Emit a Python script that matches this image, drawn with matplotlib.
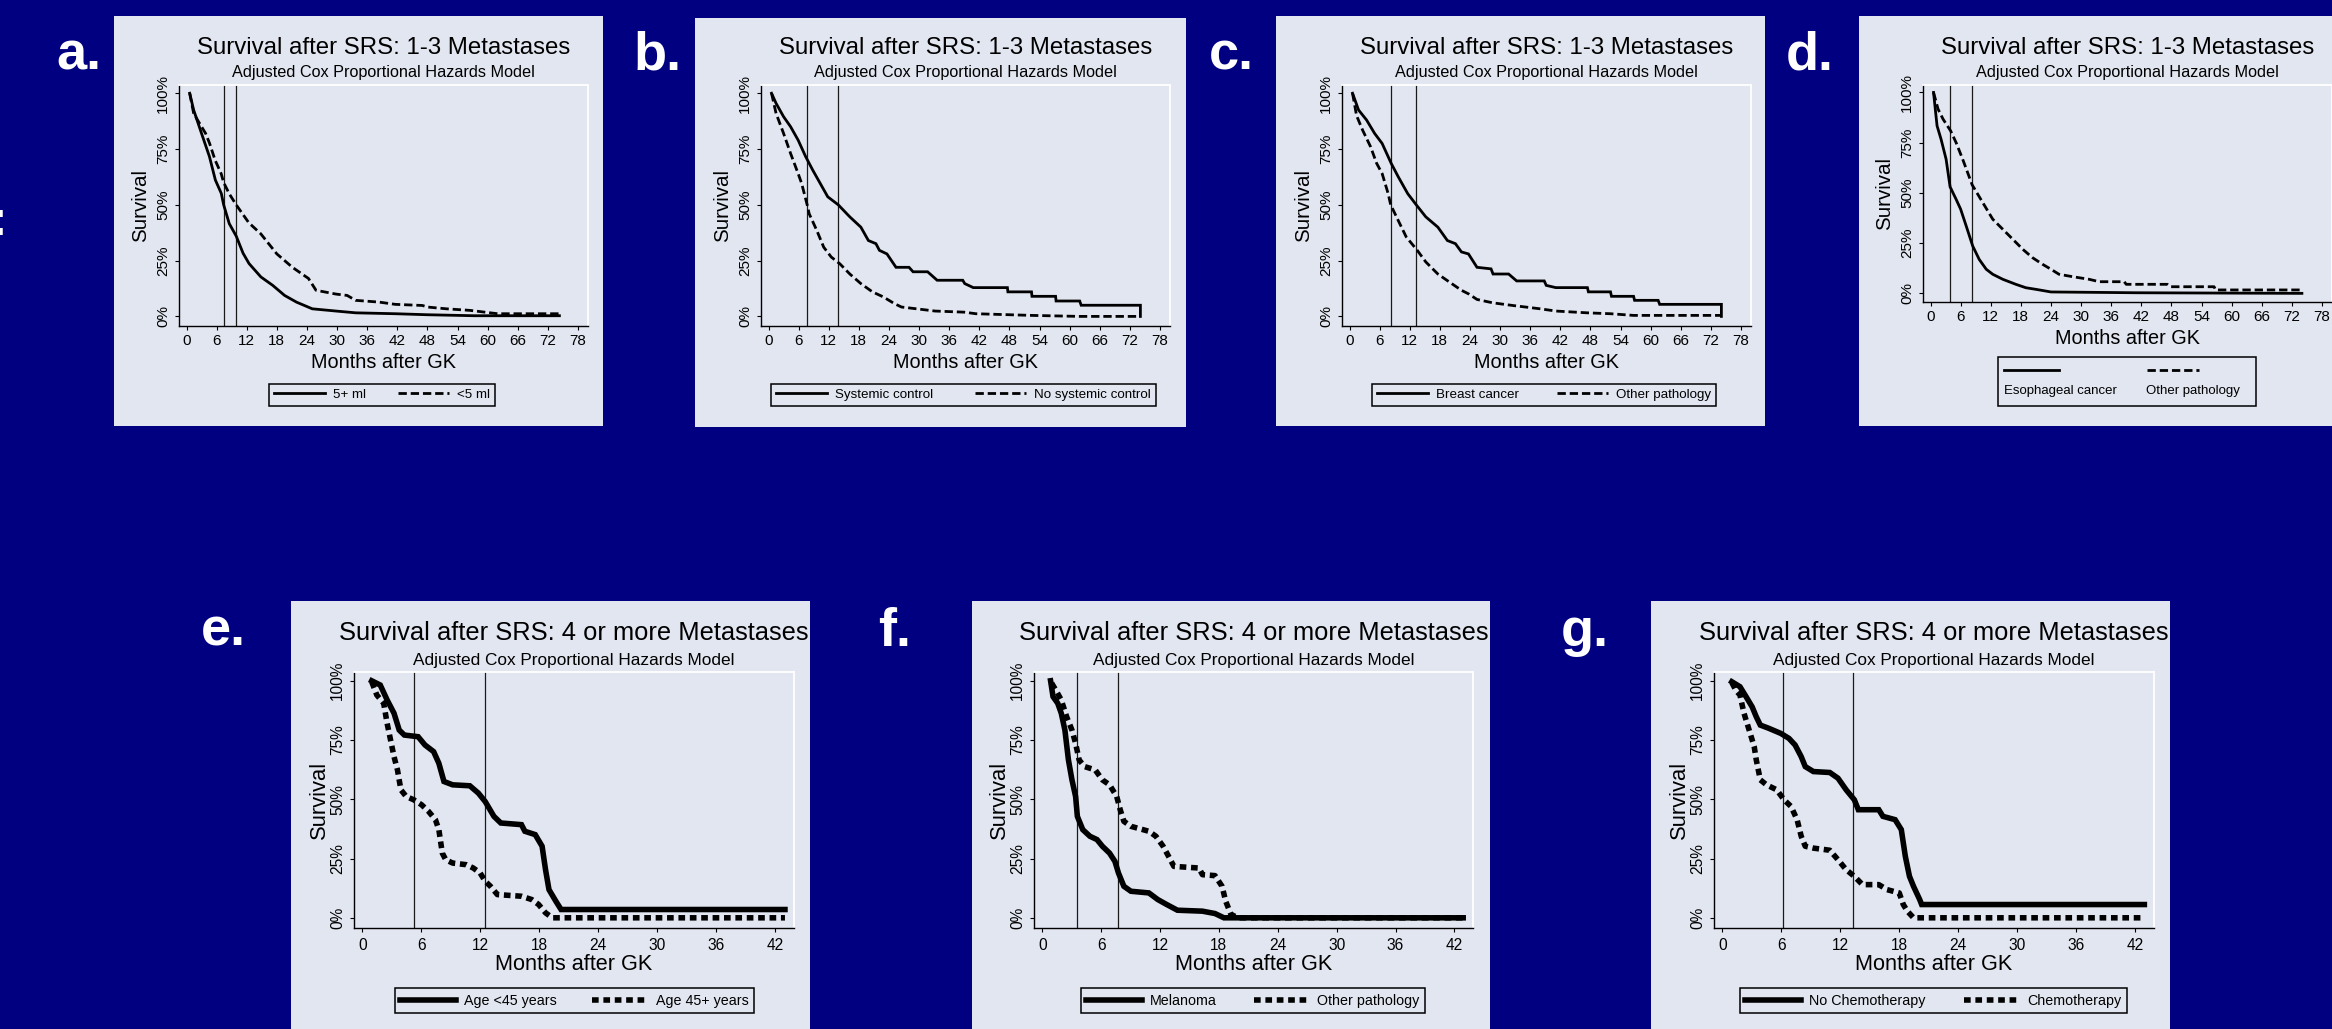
import matplotlib
matplotlib.use("Agg")
import matplotlib.pyplot as plt
from matplotlib import font_manager
from matplotlib.patches import Rectangle
from matplotlib.lines import Line2D

# ---------------- text ----------------
TITLE_TOP = "Survival after SRS: 1-3 Metastases"
TITLE_BOTTOM = "Survival after SRS: 4 or more Metastases"
SUBTITLE = "Adjusted Cox Proportional Hazards Model"
XLABEL = "Months after GK"
YLABEL = "Survival"
y_ticks = [0, 0.25, 0.5, 0.75, 1.0]
y_tick_labels = ["0%", "25%", "50%", "75%", "100%"]
x_ticks_top = [0, 6, 12, 18, 24, 30, 36, 42, 48, 54, 60, 66, 72, 78]
x_ticks_bottom = [0, 6, 12, 18, 24, 30, 36, 42]

# ---------------- data (months, survival) ----------------
# a.
a_labels = ["5+ ml", "<5 ml"]
a_vlines = [7.4, 9.9]
a_t1 = [0.63, 1.42, 2.99, 4.57, 5.75, 6.93, 7.4, 8.51, 9.9, 11.27, 12.45, 14.81, 17.18, 19.54,
        21.91, 25.06, 29.79, 33.73, 41.61, 47.91, 57.37, 74.3]
a_s1 = [1.0, 0.925, 0.82, 0.716, 0.611, 0.551, 0.50, 0.416, 0.36, 0.283, 0.237, 0.177, 0.139, 0.094,
        0.064, 0.034, 0.024, 0.016, 0.012, 0.0075, 0.003, 0.003]
a_t2 = [0.63, 1.42, 2.2, 3.8, 4.6, 5.7, 6.9, 7.4, 8.5, 9.9, 12.4, 14.8, 18.0, 21.1, 24.3, 25.8,
        29.8, 32.0, 33.7, 38.4, 41.6, 47.0, 48.0, 51.8, 56.5, 62.0, 74.3]
a_s2 = [1.0, 0.91, 0.88, 0.82, 0.775, 0.70, 0.64, 0.60, 0.55, 0.50, 0.42, 0.37, 0.28, 0.22, 0.17, 0.117,
        0.10, 0.094, 0.072, 0.064, 0.054, 0.049, 0.042, 0.034, 0.027, 0.012, 0.012]

# b.
b_labels = ["Systemic control", "No systemic control"]
b_vlines = [7.7, 13.9]
b_t1 = [0.6, 1.5, 3.0, 4.4, 5.9, 7.4, 8.8, 10.3, 11.8, 13.9, 16.2, 18.4, 19.9, 21.4, 22.1, 23.6,
        25.4, 28.0, 28.8, 31.7, 33.6, 38.7, 39.1, 40.8, 47.6, 47.7, 52.4, 52.5, 57.2, 57.3, 62.0,
        62.3, 74.1, 74.1]
b_s1 = [1.0, 0.955, 0.895, 0.85, 0.79, 0.716, 0.656, 0.596, 0.536, 0.50, 0.446, 0.40, 0.34, 0.326,
        0.296, 0.28, 0.22, 0.22, 0.20, 0.20, 0.162, 0.162, 0.147, 0.129, 0.129, 0.11, 0.11, 0.09,
        0.09, 0.069, 0.069, 0.05, 0.05, 0.0]
b_t2 = [0.6, 1.5, 3.0, 4.4, 5.9, 6.6, 7.7, 8.1, 9.6, 11.0, 12.5, 14.2, 16.2, 18.4, 20.7, 22.9,
        25.1, 26.5, 29.5, 33.2, 39.0, 41.3, 52.4, 62.0, 74.1]
b_s2 = [1.0, 0.91, 0.82, 0.73, 0.64, 0.596, 0.50, 0.46, 0.386, 0.31, 0.266, 0.236, 0.19, 0.147,
        0.11, 0.087, 0.057, 0.042, 0.034, 0.024, 0.019, 0.012, 0.0045, 0.0, 0.0]

# c.
c_labels = ["Breast cancer", "Other pathology"]
c_vlines = [8.2, 13.3]
c_t1 = [0.6, 1.8, 3.4, 5.0, 6.5, 8.3, 9.7, 11.6, 13.3, 15.2, 17.6, 19.5, 21.1, 22.3, 23.7, 25.4,
        28.2, 28.6, 31.7, 33.3, 38.8, 39.2, 41.1, 47.4, 47.6, 52.0, 52.2, 56.6, 56.8, 61.5, 61.8,
        74.1, 74.1]
c_s1 = [1.0, 0.925, 0.88, 0.82, 0.775, 0.686, 0.626, 0.55, 0.50, 0.446, 0.40, 0.34, 0.326, 0.289,
        0.28, 0.22, 0.213, 0.19, 0.19, 0.159, 0.159, 0.139, 0.129, 0.129, 0.11, 0.11, 0.09, 0.09,
        0.072, 0.072, 0.054, 0.054, 0.0]
c_t2 = [0.6, 1.4, 2.6, 4.2, 5.4, 6.5, 7.7, 8.2, 9.7, 11.3, 13.5, 15.2, 17.6, 19.9, 22.3, 23.8,
        25.4, 28.5, 32.5, 38.0, 41.1, 47.4, 52.0, 56.6, 74.1]
c_s2 = [1.0, 0.90, 0.835, 0.76, 0.686, 0.64, 0.55, 0.50, 0.43, 0.356, 0.296, 0.244, 0.19, 0.154,
        0.117, 0.10, 0.076, 0.061, 0.049, 0.034, 0.024, 0.016, 0.012, 0.0045, 0.0045]

# d.
d_labels = ["Esophageal cancer", "Other pathology"]
d_vlines = [3.9, 8.3]
d_t1 = [0.6, 1.3, 2.1, 3.1, 3.9, 5.1, 6.0, 7.1, 8.4, 9.7, 11.1, 12.4, 14.4, 17.0, 19.0, 21.0,
        24.0, 41.0, 74.0]
d_s1 = [1.0, 0.834, 0.767, 0.668, 0.53, 0.468, 0.419, 0.336, 0.236, 0.169, 0.120, 0.095, 0.07,
        0.045, 0.028, 0.020, 0.007, 0.003, 0.0]
d_t2 = [0.6, 1.5, 2.5, 4.0, 5.1, 6.4, 8.3, 10.4, 12.4, 14.4, 16.4, 18.4, 20.3, 22.3, 24.0, 25.6,
        28.3, 31.6, 33.6, 38.6, 39.0, 47.2, 47.8, 56.5, 56.8, 74.0]
d_s2 = [1.0, 0.917, 0.867, 0.809, 0.75, 0.668, 0.54, 0.452, 0.369, 0.319, 0.269, 0.219, 0.178,
        0.145, 0.120, 0.095, 0.083, 0.07, 0.058, 0.058, 0.045, 0.045, 0.033, 0.033, 0.017, 0.017]

# e.
e_labels = ["Age <45 years", "Age 45+ years"]
e_vlines = [5.25, 12.5]
e_t1 = [0.95, 1.82, 2.52, 3.22, 3.75, 4.27, 5.67, 6.37, 7.25, 7.78, 8.30, 9.18, 10.93, 11.80,
        12.50, 13.38, 14.08, 16.18, 16.53, 17.58, 18.28, 18.63, 18.98, 19.68, 20.21, 42.98]
e_s1 = [1.0, 0.982, 0.919, 0.863, 0.792, 0.771, 0.764, 0.729, 0.701, 0.652, 0.575, 0.561, 0.557,
        0.526, 0.49, 0.428, 0.40, 0.393, 0.365, 0.351, 0.302, 0.203, 0.119, 0.07, 0.035, 0.035]
e_t2 = [0.95, 1.47, 2.17, 2.52, 2.87, 3.22, 3.57, 3.92, 4.45, 5.22, 6.02, 6.73, 7.43, 7.78, 8.13,
        8.48, 9.18, 10.58, 11.28, 11.98, 12.50, 13.03, 13.73, 16.18, 17.23, 17.93, 18.63, 19.33, 42.98]
e_s2 = [0.996, 0.94, 0.905, 0.82, 0.75, 0.68, 0.624, 0.54, 0.512, 0.498, 0.477, 0.449, 0.414, 0.372,
        0.273, 0.245, 0.231, 0.224, 0.21, 0.189, 0.154, 0.133, 0.098, 0.091, 0.077, 0.056, 0.021,
        0.0, 0.0]

# f.
f_labels = ["Melanoma", "Other pathology"]
f_vlines = [3.5, 7.7]
f_t1 = [0.84, 1.09, 1.57, 1.93, 2.30, 2.66, 3.02, 3.39, 3.57, 4.12, 4.85, 5.57, 6.12, 6.85, 7.40,
        7.76, 8.31, 9.03, 10.86, 11.77, 12.68, 13.77, 16.32, 17.60, 18.51, 42.9]
f_s1 = [1.0, 0.933, 0.905, 0.863, 0.792, 0.666, 0.582, 0.512, 0.428, 0.372, 0.344, 0.33, 0.302,
        0.273, 0.238, 0.189, 0.133, 0.112, 0.105, 0.077, 0.056, 0.032, 0.028, 0.018, 0.0, 0.0]
f_t2 = [0.95, 1.38, 1.93, 2.48, 3.02, 3.39, 3.75, 4.30, 5.39, 6.12, 6.85, 7.58, 7.94, 8.31, 9.03,
        10.86, 11.58, 12.31, 12.86, 13.41, 15.96, 16.32, 17.60, 18.32, 18.69, 19.23, 19.96, 42.9]
f_s2 = [0.99, 0.96, 0.919, 0.848, 0.792, 0.736, 0.666, 0.638, 0.624, 0.582, 0.561, 0.512, 0.456,
        0.407, 0.386, 0.365, 0.344, 0.302, 0.26, 0.217, 0.21, 0.182, 0.178, 0.133, 0.07, 0.014,
        0.0, 0.0]

# g.
g_labels = ["No Chemotherapy", "Chemotherapy"]
g_vlines = [6.2, 13.3]
g_t1 = [0.96, 1.79, 2.41, 3.03, 3.45, 3.86, 4.69, 5.94, 6.77, 7.40, 8.02, 8.43, 9.26, 10.93, 11.76,
        12.59, 13.42, 13.83, 15.91, 16.33, 17.57, 18.20, 18.61, 19.03, 19.44, 20.07, 20.27, 42.92]
g_s1 = [0.996, 0.975, 0.933, 0.89, 0.848, 0.813, 0.80, 0.778, 0.757, 0.729, 0.68, 0.638, 0.617,
        0.613, 0.589, 0.54, 0.498, 0.456, 0.456, 0.428, 0.414, 0.372, 0.259, 0.175, 0.133, 0.077,
        0.056, 0.056]
g_t2 = [0.96, 1.37, 1.79, 2.20, 2.83, 3.24, 3.45, 3.86, 4.49, 5.53, 6.27, 6.98, 7.60, 8.02, 8.43,
        9.26, 10.93, 11.76, 12.59, 13.42, 14.25, 15.91, 16.74, 17.99, 18.40, 18.82, 19.44, 42.92]
g_s2 = [0.993, 0.96, 0.94, 0.863, 0.778, 0.722, 0.666, 0.582, 0.561, 0.54, 0.498, 0.47, 0.414,
        0.344, 0.302, 0.294, 0.285, 0.245, 0.203, 0.175, 0.14, 0.14, 0.119, 0.105, 0.056, 0.028,
        0.0, 0.0]

# ---------------- layout / style ----------------
W, H = 2332, 1029
NAVY = "#000080"
CARD = "#E2E6F0"
plt.rcParams["font.family"] = ["Liberation Sans", "DejaVu Sans"]


def has_font(name):
    try:
        font_manager.findfont(font_manager.FontProperties(family=name), fallback_to_default=False)
        return True
    except Exception:
        return False


NARROW_OK = has_font("Liberation Sans Narrow")
NARROW = ["Liberation Sans Narrow", "Liberation Sans", "DejaVu Sans"] if NARROW_OK \
    else ["Liberation Sans", "DejaVu Sans"]
REG = ["Liberation Sans", "DejaVu Sans"]


def fx(x):
    return x / W


def fy(y):
    return 1 - y / H


fig = plt.figure(figsize=(W / 100, H / 100), dpi=100)
fig.patch.set_facecolor(NAVY)

ROW = {
    "top": dict(lw=2.0, dash=(3.0, 1.4), tick_fs=12.6 if NARROW_OK else 11.0,
                leg_fs=11.5 if NARROW_OK else 9.6, leg_family=NARROW, title_fs=17.3, sub_fs=11.7,
                xl_fs=14.3, yl_fs=14.8, title_y=48, sub_y=73, xlim=(-1.5, 80.0), xticks=x_ticks_top,
                title=TITLE_TOP, ylab_off=38, xlab_off=36, ypad=3.5, xpad=3.0),
    "bottom": dict(lw=4.0, dash=(1.2, 0.85), tick_fs=12.2 if NARROW_OK else 11.2,
                   leg_fs=10.3, leg_family=REG, title_fs=18.4, sub_fs=12.4,
                   xl_fs=15.6, yl_fs=15.8, title_y=633, sub_y=660, xlim=(-0.85, 43.9),
                   xticks=x_ticks_bottom, title=TITLE_BOTTOM, ylab_off=35, xlab_off=37,
                   ypad=3.5, xpad=4.0),
}

panels = [
    dict(letter="a.", lpos=(79, 70), card=(114, 16, 603, 426), ax=(179, 85, 588, 326), row="top",
         data=(a_t1, a_s1, a_t2, a_s2), labels=a_labels, vlines=a_vlines, leg=(269, 379, 495, 406)),
    dict(letter="b.", lpos=(658, 70), card=(695, 18, 1186, 427), ax=(761, 85, 1170, 326), row="top",
         data=(b_t1, b_s1, b_t2, b_s2), labels=b_labels, vlines=b_vlines, leg=(771, 380, 1156, 406)),
    dict(letter="c.", lpos=(1231, 70), card=(1276, 16, 1765, 426), ax=(1342, 85, 1751, 326), row="top",
         data=(c_t1, c_s1, c_t2, c_s2), labels=c_labels, vlines=c_vlines, leg=(1372, 379, 1716, 406)),
    dict(letter="d.", lpos=(1810, 70), card=(1859, 16, 2340, 426), ax=(1923, 85, 2332, 302), row="top",
         data=(d_t1, d_s1, d_t2, d_s2), labels=d_labels, vlines=d_vlines, leg=None),
    dict(letter="e.", lpos=(223, 646), card=(291, 601, 810, 1035), ax=(354, 672, 794, 928), row="bottom",
         data=(e_t1, e_s1, e_t2, e_s2), labels=e_labels, vlines=e_vlines, leg=(395, 985, 754, 1013)),
    dict(letter="f.", lpos=(895, 646), card=(972, 601, 1490, 1035), ax=(1034, 672, 1473, 928), row="bottom",
         data=(f_t1, f_s1, f_t2, f_s2), labels=f_labels, vlines=f_vlines, leg=(1081, 985, 1425, 1013)),
    dict(letter="g.", lpos=(1585, 646), card=(1651, 601, 2170, 1035), ax=(1714, 672, 2154, 928), row="bottom",
         data=(g_t1, g_s1, g_t2, g_s2), labels=g_labels, vlines=g_vlines, leg=(1740, 985, 2127, 1013)),
]

for p in panels:
    st = ROW[p["row"]]
    cx0, cy0, cx1, cy1 = p["card"]
    fig.patches.append(Rectangle((fx(cx0), fy(cy1)), (cx1 - cx0) / W, (cy1 - cy0) / H,
                                 transform=fig.transFigure, facecolor=CARD, edgecolor="none",
                                 zorder=-10))
    fig.text(fx(p["lpos"][0]), fy(p["lpos"][1]), p["letter"], color="white", fontsize=39,
             fontweight="bold", ha="center", va="baseline")

    x0, y0, x1, y1 = p["ax"]
    ax = fig.add_axes([fx(x0), fy(y1), (x1 - x0) / W, (y1 - y0) / H])
    ax.set_zorder(1)
    ax.set_facecolor(CARD)
    ax.set_xlim(*st["xlim"])
    ax.set_ylim(-0.043, 1.037)
    for s in ("left", "bottom"):
        ax.spines[s].set_color("black")
        ax.spines[s].set_linewidth(1.0)
    for s in ("top", "right"):
        ax.spines[s].set_color("white")
        ax.spines[s].set_linewidth(1.3)

    t1, s1, t2, s2 = p["data"]
    ax.plot(t1, s1, color="black", lw=st["lw"], solid_joinstyle="miter", zorder=3)
    ax.plot(t2, s2, color="black", lw=st["lw"], linestyle=(0, st["dash"]), zorder=3)
    for v in p["vlines"]:
        ax.axvline(v, color="#1a1a1a", lw=0.9, zorder=2)

    ax.set_xticks(st["xticks"])
    ax.set_xticklabels([str(t) for t in st["xticks"]])
    ax.set_yticks(y_ticks)
    ax.set_yticklabels(y_tick_labels, rotation=90, va="center")
    ax.tick_params(axis="both", direction="out", length=3.0, width=0.8, colors="black",
                   labelsize=st["tick_fs"])
    ax.tick_params(axis="y", pad=st["ypad"])
    ax.tick_params(axis="x", pad=st["xpad"])
    for lbl in ax.get_xticklabels() + ax.get_yticklabels():
        lbl.set_fontfamily(NARROW)

    w_px = x1 - x0
    h_px = y1 - y0
    ax.set_ylabel(YLABEL, fontsize=st["yl_fs"], ha="center", va="center")
    ax.yaxis.set_label_coords(-st["ylab_off"] / w_px, 0.5)
    ax.set_xlabel(XLABEL, fontsize=st["xl_fs"], ha="center", va="center")
    ax.xaxis.set_label_coords(0.5, -st["xlab_off"] / h_px)

    cxm = (x0 + x1) / 2
    fig.text(fx(cxm), fy(st["title_y"]), st["title"], fontsize=st["title_fs"], ha="center", va="center")
    fig.text(fx(cxm), fy(st["sub_y"]), SUBTITLE, fontsize=st["sub_fs"], ha="center", va="center")

    if p["leg"] is not None:
        lx0, ly0, lx1, ly1 = p["leg"]
        h1 = Line2D([], [], color="black", lw=st["lw"])
        h2 = Line2D([], [], color="black", lw=st["lw"], linestyle=(0, st["dash"]))
        leg = ax.legend([h1, h2], p["labels"], ncol=2, mode="expand", loc="lower left",
                        bbox_to_anchor=(fx(lx0), fy(ly1), (lx1 - lx0) / W, (ly1 - ly0) / H),
                        bbox_transform=fig.transFigure, borderaxespad=0, fancybox=False,
                        edgecolor="black", facecolor=CARD, framealpha=1,
                        prop=dict(family=st["leg_family"], size=st["leg_fs"]),
                        handlelength=3.85 * 9.5 / st["leg_fs"] if p["row"] == "top" else 3.85,
                        handletextpad=0.6, borderpad=0.38, columnspacing=1.0)
        leg.get_frame().set_linewidth(1.1)
    else:
        # legend with the line keys above their labels (panel d)
        fig.patches.append(Rectangle((fx(1998), fy(406)), (2256 - 1998) / W, (406 - 357) / H,
                                     transform=fig.transFigure, facecolor=CARD, edgecolor="black",
                                     lw=1.1, zorder=3))
        fig.add_artist(Line2D([fx(2004), fx(2059)], [fy(370), fy(370)], transform=fig.transFigure,
                              color="black", lw=st["lw"], zorder=4))
        fig.add_artist(Line2D([fx(2147), fx(2199)], [fy(370), fy(370)], transform=fig.transFigure,
                              color="black", lw=st["lw"], linestyle=(0, st["dash"]), zorder=4))
        dfs = 11.4 if NARROW_OK else 9.5
        fig.text(fx(2004), fy(391), p["labels"][0], fontsize=dfs, family=NARROW, ha="left",
                 va="center", zorder=4)
        fig.text(fx(2146), fy(391), p["labels"][1], fontsize=dfs, family=NARROW, ha="left",
                 va="center", zorder=4)

# partially cut-off colon at the left edge
fig.text(fx(-9.5), fy(235), ":", color="white", fontsize=36, fontweight="bold", ha="left",
         va="baseline")

fig.savefig("out.png", dpi=100, facecolor=NAVY)
